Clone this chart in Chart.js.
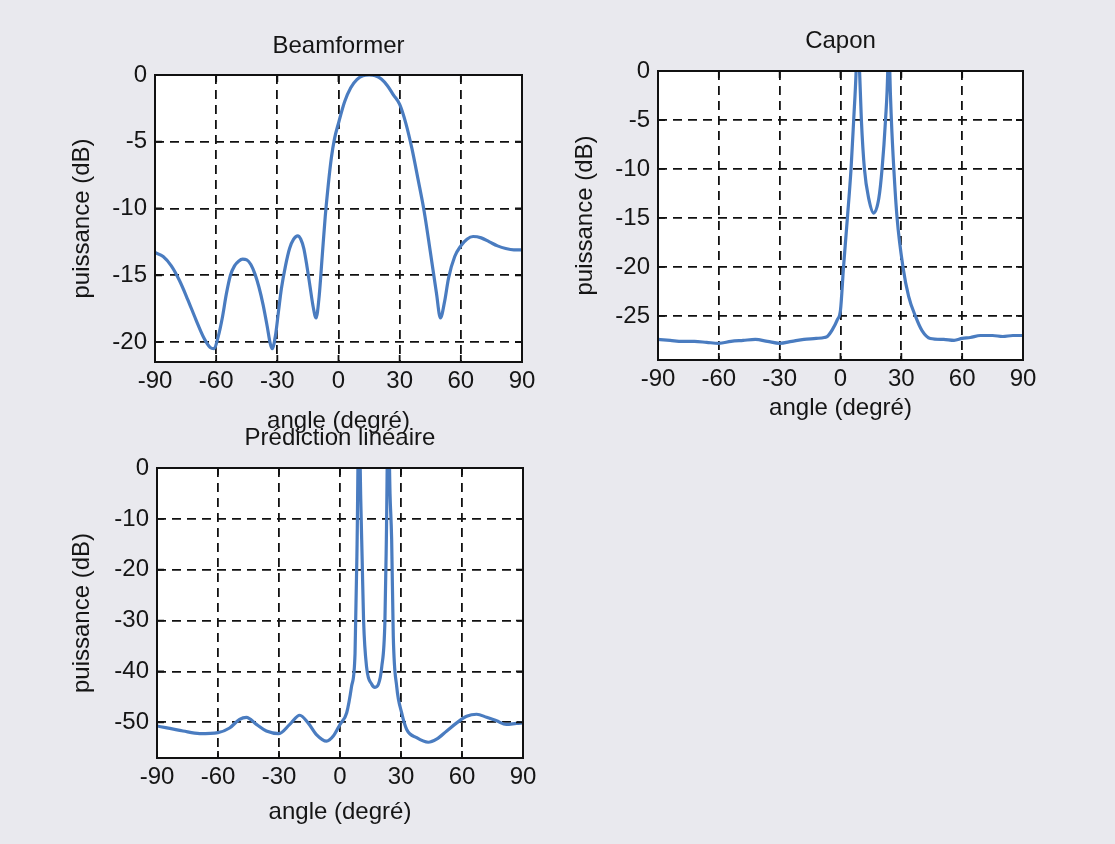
<!DOCTYPE html>
<html>
<head>
<meta charset="utf-8">
<script src="https://cdn.jsdelivr.net/npm/chart.js@4.4.1/dist/chart.umd.min.js"></script>
<style>
  html, body { margin: 0; padding: 0; background: #e9e9ee; width: 1115px; height: 844px; overflow: hidden; }
  canvas { position: absolute; }
</style>
</head>
<body>
<canvas id="c1" width="545" height="445" style="left:0px;top:0px;"></canvas>
<canvas id="c2" width="570" height="445" style="left:545px;top:0px;"></canvas>
<canvas id="c3" width="545" height="454" style="left:0px;top:390px;"></canvas>
<script>
// ---------- data ----------
const xTicks = [-90, -60, -30, 0, 30, 60, 90];

const beamTitle = 'Beamformer';
const beamYTicks = [-20, -15, -10, -5, 0];
const beamAngles = [-90,-86,-82,-78,-74,-70,-66,-63,-61,-59,-57,-55,-53,-51,-49,-47,-45,-43,-41,-39,-37,-35,-33.5,-32.5,-31,-29.5,-28,-26,-24,-22,-20,-18.5,-17,-15.5,-14,-12.5,-11,-9.5,-8,-6.5,-5,-3.5,-2,0,3,6,9,12,15,18,21,24,27,30,33,36,39,42,45,48,50,52,54,57,60,63,66,70,74,78,82,86,90];
const beamValues = [-13.3,-13.6,-14.3,-15.4,-16.8,-18.3,-19.7,-20.4,-20.5,-19.6,-18.2,-16.4,-15.0,-14.3,-13.95,-13.8,-13.85,-14.2,-14.9,-15.9,-17.2,-18.8,-20.1,-20.5,-19.6,-17.8,-16.0,-14.3,-13.0,-12.3,-12.05,-12.3,-13.0,-14.3,-15.8,-17.3,-18.2,-16.6,-13.6,-10.6,-8.2,-6.2,-4.8,-3.6,-2.0,-0.95,-0.35,-0.05,0,-0.05,-0.3,-0.8,-1.5,-2.2,-3.6,-5.5,-7.8,-10.2,-13.2,-16.3,-18.2,-17.0,-15.2,-13.6,-12.8,-12.3,-12.1,-12.2,-12.5,-12.8,-13.0,-13.1,-13.1];

const caponTitle = 'Capon';
const caponYTicks = [-25, -20, -15, -10, -5, 0];
const caponAngles = [-90,-84,-78,-72,-66,-60,-54,-48,-42,-36,-30,-24,-18,-12,-8,-6.5,-4,-1.6,0,1.5,3.4,5.2,6.5,7.7,8.5,9.4,10.3,11.8,13.9,16.4,18.9,20.5,22.2,23.3,23.8,24.3,25.1,26.3,27.9,30.8,33.6,36.9,40.2,44.3,50.9,56,60,64,69,75,80,85,90];
const caponValues = [-27.4,-27.5,-27.6,-27.6,-27.7,-27.8,-27.6,-27.5,-27.4,-27.6,-27.8,-27.6,-27.4,-27.3,-27.2,-27.1,-26.4,-25.4,-24.4,-20,-15,-10,-5,0,6,0,-5,-10,-13,-14.5,-13,-10,-5,0,6,0,-5,-10,-15,-20,-23,-25,-26.5,-27.3,-27.4,-27.5,-27.3,-27.2,-27.0,-27.0,-27.1,-27.0,-27.0];

const predTitle = 'Prédiction linéaire';
const predYTicks = [-50, -40, -30, -20, -10, 0];
const predAngles = [-90,-77.2,-69,-60,-54.3,-49.4,-46,-41.1,-36.2,-30,-24.7,-19.8,-15.7,-11.6,-6.6,-3.3,0,3.3,5.7,7.4,8.4,9.3,10.2,10.9,11.6,13.1,15.6,17.2,18.9,20.5,22.1,22.8,23.7,24.6,25.4,26.2,27.9,30.3,32.8,37.7,43.4,47.5,52.5,57.4,62.3,67.2,72.1,77,81.8,86.7,90];
const predValues = [-50.7,-51.7,-52.2,-52.0,-51.1,-49.4,-49.0,-50.4,-51.7,-52.2,-50.4,-48.6,-50.1,-52.4,-53.7,-52.7,-50.4,-48.1,-42.9,-36.4,-15,12,-6,-18,-30,-39.2,-42.5,-43.1,-42.5,-39.2,-30,-14,12,-5,-14,-33,-43,-48.1,-51.4,-53.0,-53.9,-53.3,-51.7,-50.1,-48.8,-48.4,-49.0,-49.7,-50.4,-50.2,-50.1];

const xLabel = 'angle (degré)';
const yLabel = 'puissance (dB)';

// ---------- styling ----------
const FONT = "'Liberation Sans', Arial, Helvetica, sans-serif";
const LINE_COLOR = '#4a7cc0';
const TEXT_COLOR = '#151515';

const frame = {
  id: 'frame',
  beforeDraw(chart) {
    const a = chart.chartArea, ctx = chart.ctx;
    ctx.save();
    ctx.fillStyle = '#ffffff';
    ctx.fillRect(a.left, a.top, a.right - a.left, a.bottom - a.top);
    ctx.restore();
  },
  afterDraw(chart) {
    const a = chart.chartArea, ctx = chart.ctx;
    const xs = chart.scales.x, ys = chart.scales.y;
    ctx.save();
    ctx.strokeStyle = '#111';
    ctx.lineWidth = 1.8;
    ctx.beginPath();
    xs.ticks.forEach(t => {
      const px = xs.getPixelForValue(t.value);
      ctx.moveTo(px, a.bottom); ctx.lineTo(px, a.bottom - 7);
      ctx.moveTo(px, a.top); ctx.lineTo(px, a.top + 7);
    });
    ys.ticks.forEach(t => {
      const py = ys.getPixelForValue(t.value);
      ctx.moveTo(a.left, py); ctx.lineTo(a.left + 7, py);
      ctx.moveTo(a.right, py); ctx.lineTo(a.right - 7, py);
    });
    ctx.stroke();
    ctx.lineWidth = 2;
    ctx.strokeRect(a.left, a.top, a.right - a.left, a.bottom - a.top);
    ctx.restore();
  }
};

function makeChart(id, cfg) {
  const pts = cfg.angles.map((a, i) => ({x: a, y: cfg.values[i]}));
  return new Chart(document.getElementById(id), {
    type: 'line',
    data: { datasets: [{
      data: pts,
      borderColor: LINE_COLOR,
      borderWidth: 3.2,
      pointRadius: 0,
      fill: false,
      cubicInterpolationMode: 'monotone',
      clip: 0
    }]},
    plugins: [frame],
    options: {
      responsive: false,
      animation: false,
      events: [],
      layout: { padding: { left: 0, right: cfg.padRight, top: 0, bottom: 0 } },
      plugins: {
        legend: { display: false },
        tooltip: { enabled: false },
        title: {
          display: true,
          fullSize: false,
          text: cfg.title,
          color: TEXT_COLOR,
          font: { family: FONT, size: 24, weight: 'normal', lineHeight: 1.2 },
          padding: { top: cfg.titleTop, bottom: cfg.titleBottom }
        }
      },
      scales: {
        x: {
          type: 'linear',
          min: -90, max: 90,
          afterBuildTicks: s => { s.ticks = xTicks.map(v => ({value: v})); },
          afterFit: s => { s.height = cfg.xHeight; },
          ticks: { color: TEXT_COLOR, padding: 5, font: { family: FONT, size: 24 }, maxRotation: 0, autoSkip: false },
          grid: { color: '#111', lineWidth: 1.8, drawTicks: false },
          border: { display: false, dash: [9, 6] },
          title: { display: true, text: xLabel, color: TEXT_COLOR, font: { family: FONT, size: 24, lineHeight: 1.2 }, padding: { top: 0, bottom: cfg.xTitlePad } }
        },
        y: {
          type: 'linear',
          min: cfg.yMin, max: 0,
          afterBuildTicks: s => { s.ticks = cfg.yTicks.map(v => ({value: v})); },
          afterFit: s => { s.width = cfg.yWidth; },
          ticks: { color: TEXT_COLOR, padding: 8, font: { family: FONT, size: 24 }, autoSkip: false },
          grid: { color: '#111', lineWidth: 1.8, drawTicks: false },
          border: { display: false, dash: [9, 6] },
          title: { display: true, text: yLabel, color: TEXT_COLOR, font: { family: FONT, size: 24, lineHeight: 1.2 }, padding: { top: cfg.yTitlePad, bottom: 0 } }
        }
      }
    }
  });
}

makeChart('c1', { title: beamTitle, angles: beamAngles, values: beamValues, yTicks: beamYTicks, yMin: -21.5,
  padRight: 23, titleTop: 32.3, titleBottom: 13.9, xHeight: 83, yWidth: 155, xTitlePad: 9.6, yTitlePad: 67.6 });
makeChart('c2', { title: caponTitle, angles: caponAngles, values: caponValues, yTicks: caponYTicks, yMin: -29.5,
  padRight: 92, titleTop: 27.3, titleBottom: 14.9, xHeight: 85, yWidth: 113, xTitlePad: 22.6, yTitlePad: 25.6 });
makeChart('c3', { title: predTitle, angles: predAngles, values: predValues, yTicks: predYTicks, yMin: -57,
  padRight: 22, titleTop: 34.3, titleBottom: 14.9, xHeight: 86, yWidth: 157, xTitlePad: 17.6, yTitlePad: 67.6 });
</script>
</body>
</html>
